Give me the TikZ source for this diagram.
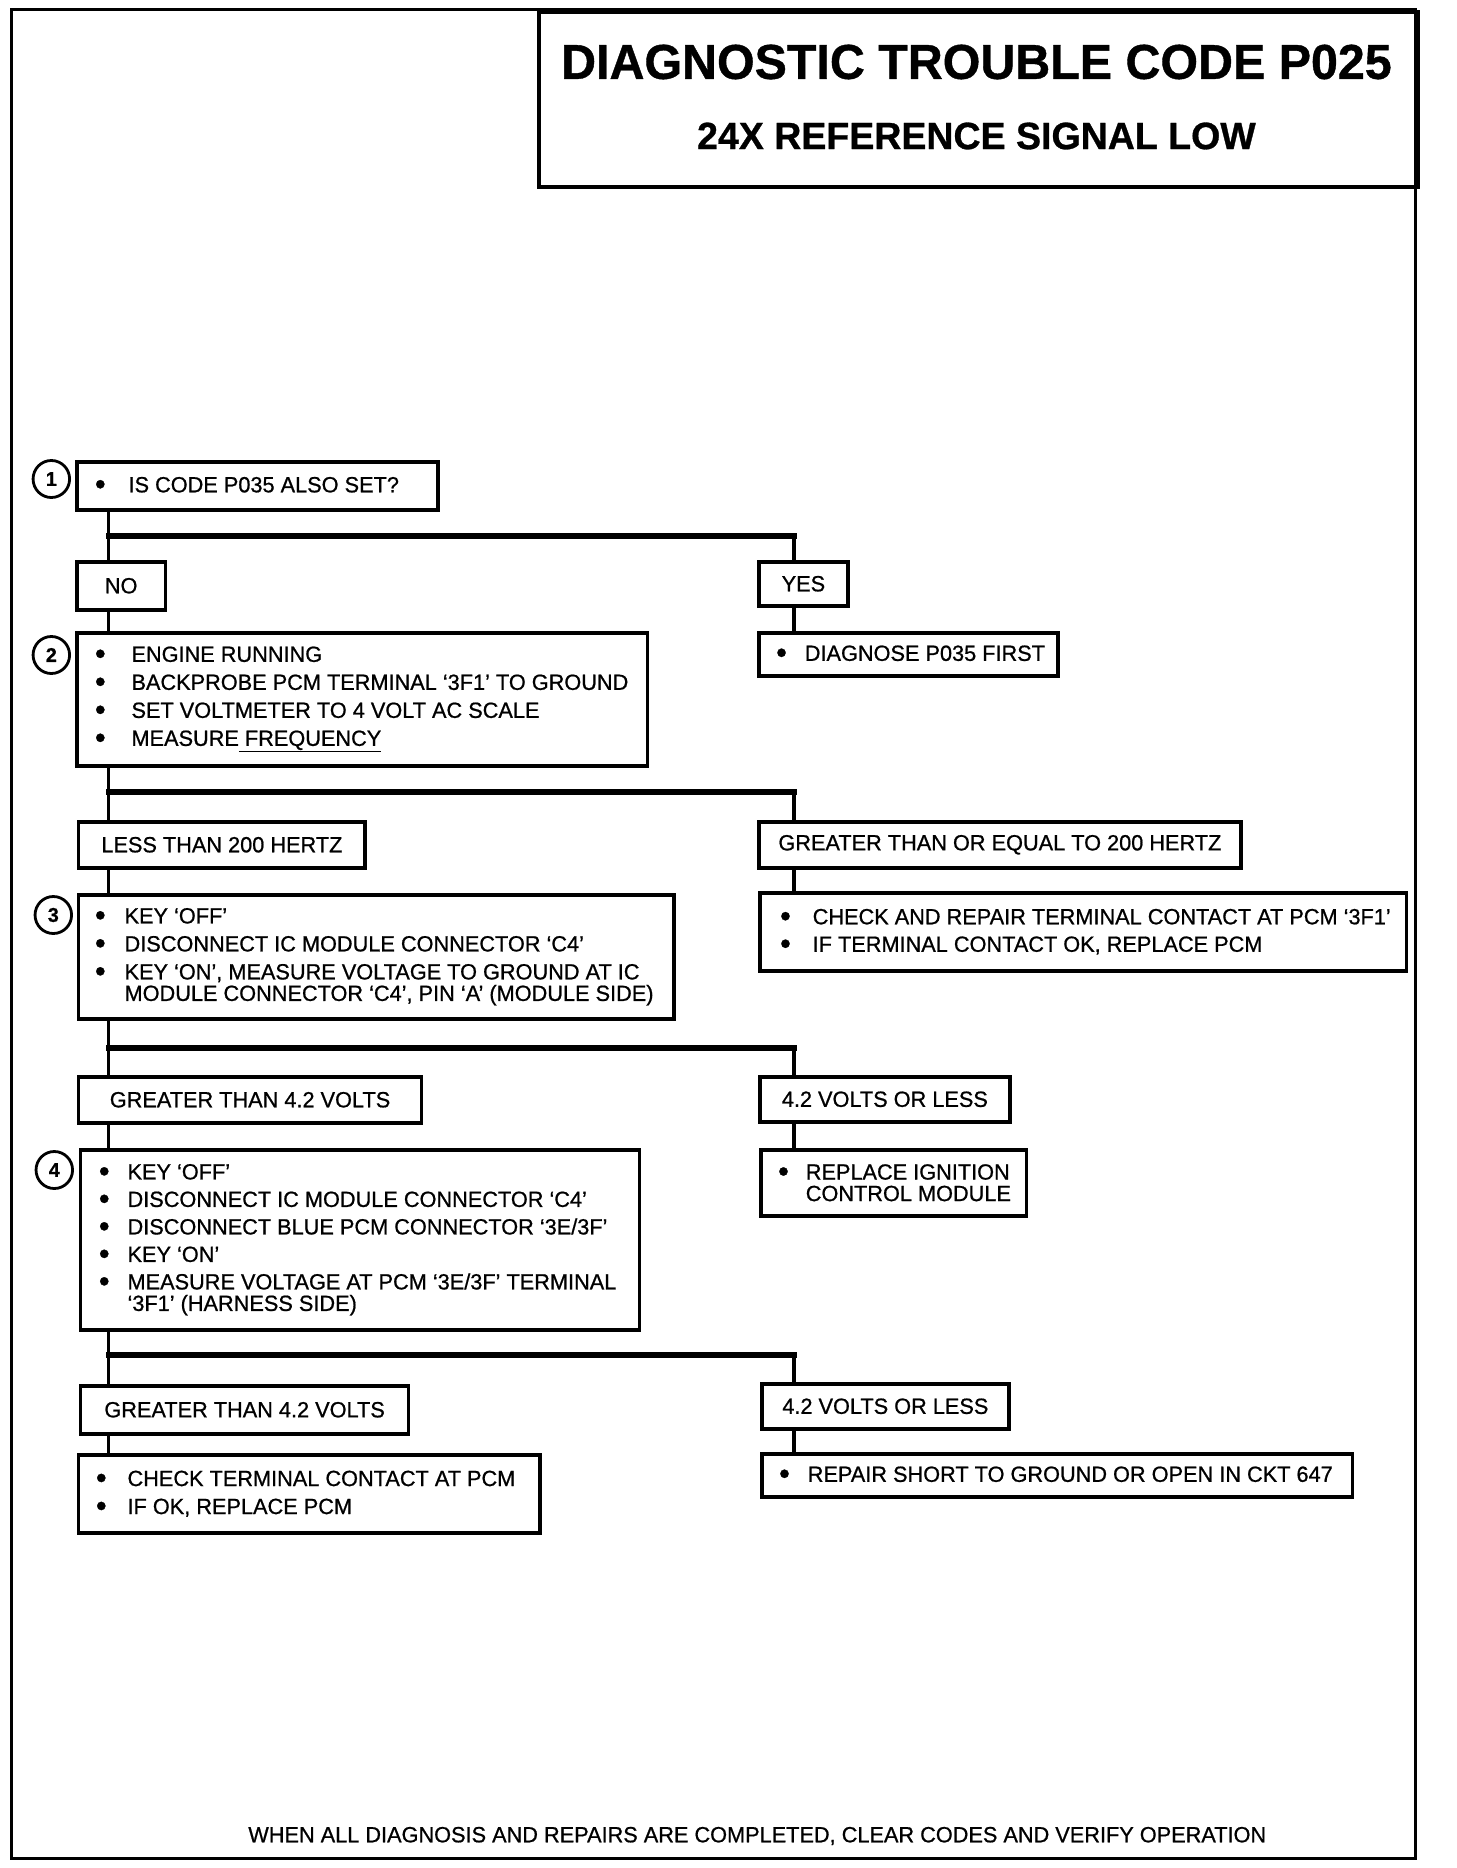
\documentclass[tikz,border=0pt]{standalone}
\usepackage{fontspec}
\setmainfont{Liberation Sans}[FakeBold=0.8]
\newcommand{\fs}{\fontsize{22}{21.5}\selectfont}
\newcommand{\bul}{\raisebox{-2.2pt}{\fontsize{31}{31}\selectfont\textbullet}}
\newcommand{\itm}[2][32pt]{\makebox[#1][l]{\bul}#2}
\begin{document}
\begin{tikzpicture}[x=1pt,y=-1pt,
  box/.style={draw, line width=3.5pt, rectangle, inner sep=0pt, anchor=north west},
  lbl/.style={box, font=\fs},
  txt/.style={inner sep=0pt, align=left, font=\fs, anchor=west},
  conn/.style={line width=3.5pt},
  branch/.style={line width=6pt, line cap=rect},
  num/.style={draw, circle, line width=2.8pt, minimum size=37pt, inner sep=0pt, font=\bfseries\fontsize{20}{20}\selectfont}]
\useasboundingbox (0,0) rectangle (1456,1868);
\begin{scope}[xscale=0.9873, transform shape]
% frame and title
\draw[line width=3pt] (12,10) rectangle (1434,1858);
\node[draw, line width=4pt, rectangle, inner sep=0pt, anchor=north west, minimum width=890pt, minimum height=175pt] (tbox) at (544,10) {};
\node[font=\bfseries\fontsize{49}{49}\selectfont, inner sep=0pt] (title) at (989,62) {DIAGNOSTIC TROUBLE CODE P025};
\node[font=\bfseries\fontsize{38}{38}\selectfont, inner sep=0pt] (subtitle) at (989,136) {24X REFERENCE SIGNAL LOW};
% trunk / branch coordinates
\coordinate (tx) at (110,0);
\coordinate (rx) at (804,0);
\coordinate (j1) at (0,536);
\coordinate (j2) at (0,792);
\coordinate (j3) at (0,1048);
\coordinate (j4) at (0,1355);
% step numbers
\node[num] (n1) at (52,479) {1};
\node[num] (n2) at (52,655) {2};
\node[num] (n3) at (54,915) {3};
\node[num] (n4) at (55,1170) {4};
% step 1
\node[box, minimum width=366pt, minimum height=48pt] (b1) at (76,460) {};
\node[txt] (t1) at ([xshift=20pt]b1.west) {\itm[34pt]{IS CODE P035 ALSO SET?}};
\node[lbl, minimum width=90pt, minimum height=48pt] (no) at (76,560) {NO};
\node[lbl, minimum width=90pt, minimum height=44pt] (yes) at (767,560) {YES};
% step 2
\node[box, minimum width=578pt, minimum height=133pt] (b2) at (76,631) {};
\node[txt] (t2) at ([xshift=20pt]b2.west) {\itm[37pt]{ENGINE RUNNING}\\[6.5pt]
  \itm[37pt]{BACKPROBE PCM TERMINAL ‘3F1’ TO GROUND}\\[6.5pt]
  \itm[37pt]{SET VOLTMETER TO 4 VOLT AC SCALE}\\[6.5pt]
  \itm[37pt]{MEASURE\underline{\ FREQUENCY}}};
\node[box, minimum width=303pt, minimum height=43pt] (diag) at (767,631) {};
\node[txt] (td) at ([xshift=19pt]diag.west) {\itm[29pt]{DIAGNOSE P035 FIRST}};
\node[lbl, minimum width=290pt, minimum height=46pt] (less) at (78,820) {LESS THAN 200 HERTZ};
\node[lbl, minimum width=488pt, minimum height=46pt] (greq) at (767,820) {GREATER THAN OR EQUAL TO 200 HERTZ};
% step 3
\node[box, minimum width=603pt, minimum height=124pt] (b3) at (78,893) {};
\node[txt] (t3) at ([xshift=18pt]b3.west) {\itm[30pt]{KEY ‘OFF’}\\[6.5pt]
  \itm[30pt]{DISCONNECT IC MODULE CONNECTOR ‘C4’}\\[6.5pt]
  \itm[30pt]{KEY ‘ON’, MEASURE VOLTAGE TO GROUND AT IC}\\
  \hspace*{30pt}MODULE CONNECTOR ‘C4’, PIN ‘A’ (MODULE SIDE)};
\node[box, minimum width=655pt, minimum height=78pt] (chk) at (768,891) {};
\node[txt] (tc) at ([xshift=22pt]chk.west) {\itm[33pt]{CHECK AND REPAIR TERMINAL CONTACT AT PCM ‘3F1’}\\[6pt]
  \itm[33pt]{IF TERMINAL CONTACT OK, REPLACE PCM}};
\node[lbl, minimum width=347pt, minimum height=46pt] (gt1) at (78,1075) {GREATER THAN 4.2 VOLTS};
\node[lbl, minimum width=253pt, minimum height=45pt] (le1) at (768,1075) {4.2 VOLTS OR LESS};
% step 4
\node[box, minimum width=566pt, minimum height=180pt] (b4) at (80,1148) {};
\node[txt] (t4) at ([xshift=20pt]b4.west) {\itm[29pt]{KEY ‘OFF’}\\[6pt]
  \itm[29pt]{DISCONNECT IC MODULE CONNECTOR ‘C4’}\\[6pt]
  \itm[29pt]{DISCONNECT BLUE PCM CONNECTOR ‘3E/3F’}\\[6pt]
  \itm[29pt]{KEY ‘ON’}\\[6pt]
  \itm[29pt]{MEASURE VOLTAGE AT PCM ‘3E/3F’ TERMINAL}\\
  \hspace*{29pt}‘3F1’ (HARNESS SIDE)};
\node[box, minimum width=269pt, minimum height=66pt] (repl) at (769,1148) {};
\node[txt] (tr) at ([xshift=19pt]repl.west) {\itm[28pt]{REPLACE IGNITION}\\
  \hspace*{28pt}CONTROL MODULE};
\node[lbl, minimum width=332pt, minimum height=48pt] (gt2) at (80,1384) {GREATER THAN 4.2 VOLTS};
\node[lbl, minimum width=250pt, minimum height=45pt] (le2) at (770,1382) {4.2 VOLTS OR LESS};
\node[box, minimum width=467pt, minimum height=78pt] (chk2) at (78,1453) {};
\node[txt] (tc2) at ([xshift=19pt]chk2.west) {\itm[32pt]{CHECK TERMINAL CONTACT AT PCM}\\[6.5pt]
  \itm[32pt]{IF OK, REPLACE PCM}};
\node[box, minimum width=598pt, minimum height=43pt] (reps) at (770,1452) {};
\node[txt] (trs) at ([xshift=19pt]reps.west) {\itm[29pt]{REPAIR SHORT TO GROUND OR OPEN IN CKT 647}};
% footer
\node[font=\fs, inner sep=0pt] (foot) at (767,1836) {WHEN ALL DIAGNOSIS AND REPAIRS ARE COMPLETED, CLEAR CODES AND VERIFY OPERATION};
% connectors
\draw[conn] (b1.south -| tx) -- (no.north -| tx);
\draw[branch] (tx |- j1) -- (rx |- j1);
\draw[conn] (rx |- j1) -- (yes.north -| rx);
\draw[conn] (no.south -| tx) -- (b2.north -| tx);
\draw[conn] (yes.south -| rx) -- (diag.north -| rx);
\draw[conn] (b2.south -| tx) -- (less.north -| tx);
\draw[branch] (tx |- j2) -- (rx |- j2);
\draw[conn] (rx |- j2) -- (greq.north -| rx);
\draw[conn] (less.south -| tx) -- (b3.north -| tx);
\draw[conn] (greq.south -| rx) -- (chk.north -| rx);
\draw[conn] (b3.south -| tx) -- (gt1.north -| tx);
\draw[branch] (tx |- j3) -- (rx |- j3);
\draw[conn] (rx |- j3) -- (le1.north -| rx);
\draw[conn] (gt1.south -| tx) -- (b4.north -| tx);
\draw[conn] (le1.south -| rx) -- (repl.north -| rx);
\draw[conn] (b4.south -| tx) -- (gt2.north -| tx);
\draw[branch] (tx |- j4) -- (rx |- j4);
\draw[conn] (rx |- j4) -- (le2.north -| rx);
\draw[conn] (gt2.south -| tx) -- (chk2.north -| tx);
\draw[conn] (le2.south -| rx) -- (reps.north -| rx);
\end{scope}
\end{tikzpicture}
\end{document}
